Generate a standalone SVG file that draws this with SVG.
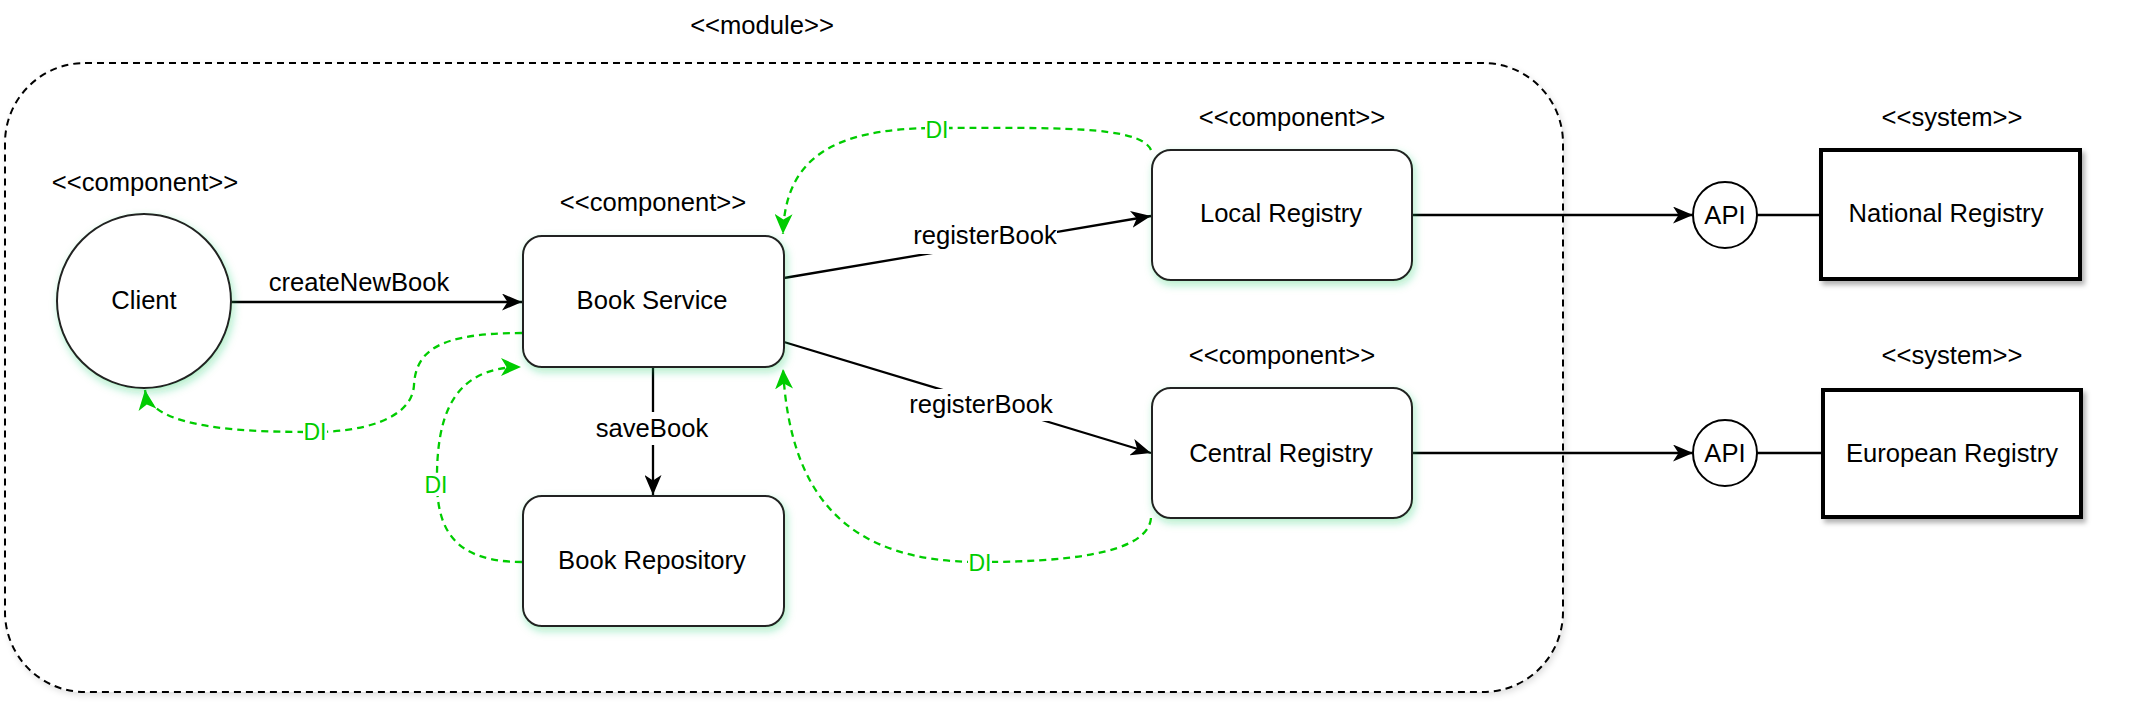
<svg xmlns="http://www.w3.org/2000/svg" width="2151" height="725" viewBox="0 0 2151 725">
<style>
text{font-family:"Liberation Sans",Arial,sans-serif;font-size:25.6px;fill:#000;text-anchor:middle}
.di{fill:#00cc00;font-size:23px}
.node{fill:#fff;stroke:#222;stroke-width:2}
.sys{fill:#fff;stroke:#000;stroke-width:4}
.api{fill:#fff;stroke:#000;stroke-width:2}
.edge{fill:none;stroke:#000;stroke-width:2.3}
.dep{fill:none;stroke:#00cc00;stroke-width:2.3;stroke-dasharray:7 5}
.lbl{fill:#fff;stroke:none}
</style>
<defs>
<filter id="glow" x="-20%" y="-20%" width="140%" height="150%">
<feDropShadow dx="2" dy="4" stdDeviation="4" flood-color="#22cc66" flood-opacity="0.35"/>
</filter>
<filter id="grey" x="-20%" y="-20%" width="140%" height="150%">
<feDropShadow dx="3" dy="4" stdDeviation="2.5" flood-color="#000" flood-opacity="0.3"/>
</filter>
<filter id="soft" x="-5%" y="-5%" width="110%" height="115%">
<feDropShadow dx="2" dy="3" stdDeviation="3" flood-color="#000" flood-opacity="0.12"/>
</filter>
<marker id="ah" viewBox="0 0 20 17" refX="20" refY="8.5" markerWidth="20" markerHeight="17" markerUnits="userSpaceOnUse" orient="auto">
<path d="M0,0 L20,8.5 L0,17 L5.5,8.5 Z" fill="#000"/>
</marker>
<marker id="gh" viewBox="0 0 20 18" refX="20" refY="9" markerWidth="20" markerHeight="18" markerUnits="userSpaceOnUse" orient="auto">
<path d="M0,0 L20,9 L0,18 L5.5,9 Z" fill="#00cc00"/>
</marker>
</defs>
<rect width="2151" height="725" fill="#fff"/>

<g id="module">
<rect x="5" y="63" width="1558" height="629" rx="80" fill="#fff" stroke="#000" stroke-width="2" stroke-dasharray="7 5" filter="url(#soft)"/>
<text x="762" y="34">&lt;&lt;module&gt;&gt;</text>
</g>

<g id="connectors">
<line class="edge" x1="231" y1="302" x2="522" y2="302" marker-end="url(#ah)"/>
<text x="359" y="291">createNewBook</text>

<line class="edge" x1="653" y1="367" x2="653" y2="495" marker-end="url(#ah)"/>
<rect class="lbl" x="598" y="412" width="110" height="33"/>
<text x="652" y="437">saveBook</text>

<line class="edge" x1="784" y1="278" x2="1151" y2="216" marker-end="url(#ah)"/>
<rect class="lbl" x="912" y="220" width="145" height="34"/>
<text x="985" y="244">registerBook</text>

<line class="edge" x1="784" y1="342" x2="1151" y2="453" marker-end="url(#ah)"/>
<rect class="lbl" x="906" y="389" width="150" height="32"/>
<text x="981" y="413">registerBook</text>

<line class="edge" x1="1412" y1="215" x2="1693" y2="215" marker-end="url(#ah)"/>
<line class="edge" x1="1412" y1="453" x2="1693" y2="453" marker-end="url(#ah)"/>
<line class="edge" x1="1757" y1="215" x2="1820" y2="215"/>
<line class="edge" x1="1757" y1="453" x2="1822" y2="453"/>

<path class="dep" d="M522,333 C440,333 416,350 414,385 C412,420 360,432 315,432 C250,432 150,430 145,390" marker-end="url(#gh)"/>
<rect class="lbl" x="303" y="421" width="24" height="22"/>
<text class="di" x="315" y="440">DI</text>

<path class="dep" d="M522,562 C455,562 438,530 437,485 C436,420 450,367 521,367" marker-end="url(#gh)"/>
<rect class="lbl" x="424" y="474" width="24" height="22"/>
<text class="di" x="436" y="493">DI</text>

<path class="dep" d="M1151,150 C1140,125 1050,128 937,128 C830,128 785,160 783,234" marker-end="url(#gh)"/>
<rect class="lbl" x="925" y="119" width="24" height="22"/>
<text class="di" x="937" y="138">DI</text>

<path class="dep" d="M1151,518 C1148,555 1060,562 980,562 C850,562 790,500 783,369" marker-end="url(#gh)"/>
<rect class="lbl" x="968" y="552" width="24" height="22"/>
<text class="di" x="980" y="571">DI</text>
</g>

<g id="client">
<text x="145" y="191">&lt;&lt;component&gt;&gt;</text>
<circle class="node" cx="144" cy="301" r="87" filter="url(#glow)"/>
<text x="144" y="309">Client</text>
</g>

<g id="book-service">
<text x="653" y="211">&lt;&lt;component&gt;&gt;</text>
<rect class="node" x="523" y="236" width="261" height="131" rx="19" filter="url(#glow)"/>
<text x="652" y="309">Book Service</text>
</g>

<g id="book-repository">
<rect class="node" x="523" y="496" width="261" height="130" rx="19" filter="url(#glow)"/>
<text x="652" y="569">Book Repository</text>
</g>

<g id="local-registry">
<text x="1292" y="126">&lt;&lt;component&gt;&gt;</text>
<rect class="node" x="1152" y="150" width="260" height="130" rx="19" filter="url(#glow)"/>
<text x="1281" y="222">Local Registry</text>
</g>

<g id="central-registry">
<text x="1282" y="364">&lt;&lt;component&gt;&gt;</text>
<rect class="node" x="1152" y="388" width="260" height="130" rx="19" filter="url(#glow)"/>
<text x="1281" y="462">Central Registry</text>
</g>

<g id="api-national">
<ellipse class="api" cx="1725" cy="215" rx="32" ry="33"/>
<text x="1725" y="224">API</text>
</g>

<g id="api-european">
<ellipse class="api" cx="1725" cy="453" rx="32" ry="33"/>
<text x="1725" y="462">API</text>
</g>

<g id="national-registry">
<text x="1952" y="126">&lt;&lt;system&gt;&gt;</text>
<rect class="sys" x="1821" y="150" width="259" height="129" filter="url(#grey)"/>
<text x="1946" y="222">National Registry</text>
</g>

<g id="european-registry">
<text x="1952" y="364">&lt;&lt;system&gt;&gt;</text>
<rect class="sys" x="1823" y="390" width="258" height="127" filter="url(#grey)"/>
<text x="1952" y="462">European Registry</text>
</g>
</svg>
